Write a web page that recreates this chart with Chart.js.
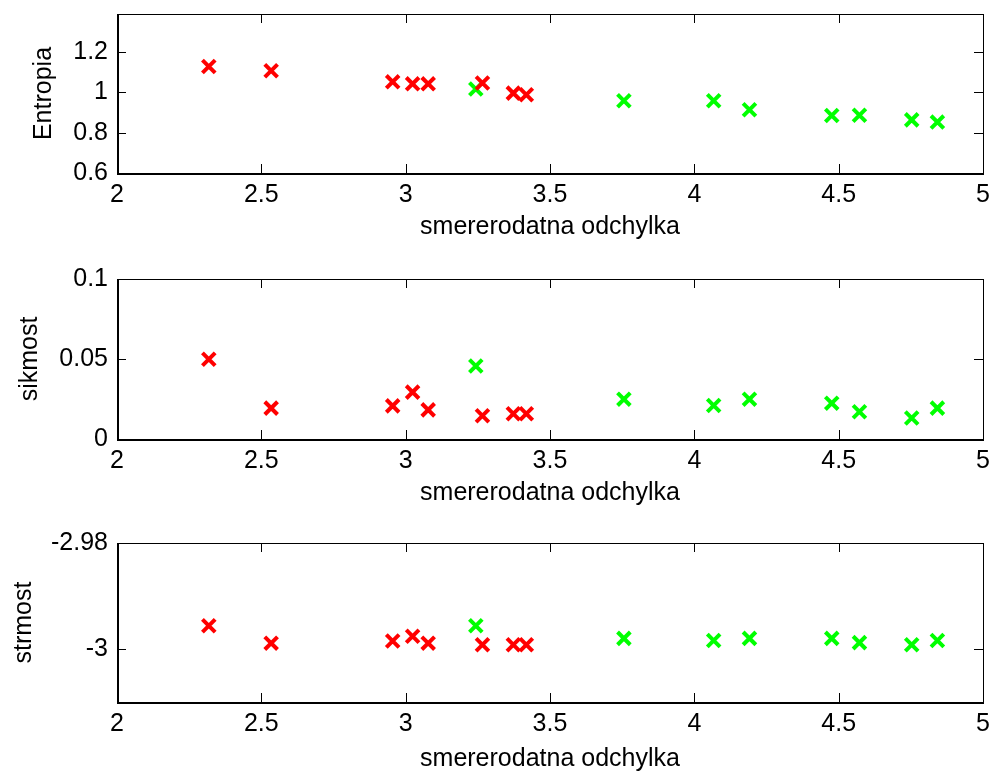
<!DOCTYPE html>
<html>
<head>
<meta charset="utf-8">
<script src="https://cdn.jsdelivr.net/npm/chart.js@4/dist/chart.umd.min.js"></script>
<style>
  html, body { margin: 0; padding: 0; background: #fff; }
  #wrap { position: relative; width: 996px; height: 779px; overflow: hidden; }
  #wrap canvas { position: absolute; left: 0; }
</style>
</head>
<body>
<div id="wrap">
  <canvas id="c1" width="996" height="242" style="top:0px"></canvas>
  <canvas id="c2" width="996" height="248" style="top:260px"></canvas>
  <canvas id="c3" width="996" height="244" style="top:530px"></canvas>
</div>
<script>
// smerodatna odchylka (x) for both groups
const redX   = [2.318, 2.534, 2.955, 3.024, 3.078, 3.266, 3.373, 3.418];
const greenX = [3.243, 3.756, 4.067, 4.191, 4.476, 4.572, 4.753, 4.842];

const entropiaRed   = [1.129, 1.108, 1.053, 1.043, 1.043, 1.047, 0.997, 0.989];
const entropiaGreen = [1.017, 0.959, 0.959, 0.914, 0.886, 0.887, 0.864, 0.853];

const sikmostRed   = [0.0498, 0.0193, 0.0207, 0.0293, 0.0182, 0.0145, 0.0158, 0.0158];
const sikmostGreen = [0.0456, 0.0249, 0.0209, 0.0249, 0.0224, 0.0170, 0.0131, 0.0193];

const strmostRed   = [-2.9956, -2.9989, -2.9985, -2.9976, -2.9989, -2.9992, -2.9992, -2.9992];
const strmostGreen = [-2.9956, -2.9980, -2.9984, -2.9980, -2.9980, -2.9988, -2.9992, -2.9984];

const xTicks = [2, 2.5, 3, 3.5, 4, 4.5, 5];
const entropiaTicks = [0.6, 0.8, 1, 1.2];
const sikmostTicks = [0, 0.05, 0.1];
const strmostTicks = [-3, -2.98];

const xTitle = 'smererodatna odchylka';
const FONT = "'Liberation Sans', Arial, sans-serif";

// inward ticks on all four sides + box, like matlab axes
const matlabBox = {
  id: 'matlabBox',
  beforeDatasetsDraw(chart) {
    const { ctx, chartArea: a, scales: { x, y } } = chart;
    const tl = 9;
    ctx.save();
    ctx.strokeStyle = '#000';
    ctx.lineWidth = 1;
    ctx.beginPath();
    x.ticks.forEach(t => {
      const px = Math.round(x.getPixelForValue(t.value)) + 0.5;
      ctx.moveTo(px, a.bottom); ctx.lineTo(px, a.bottom - tl);
      ctx.moveTo(px, a.top); ctx.lineTo(px, a.top + tl);
    });
    y.ticks.forEach(t => {
      const py = Math.round(y.getPixelForValue(t.value)) + 0.5;
      ctx.moveTo(a.left, py); ctx.lineTo(a.left + tl, py);
      ctx.moveTo(a.right, py); ctx.lineTo(a.right - tl, py);
    });
    ctx.stroke();
    ctx.strokeRect(Math.round(a.left) + 0.5, Math.round(a.top) + 0.5,
                   Math.round(a.right - a.left), Math.round(a.bottom - a.top));
    ctx.lineWidth = 2;
    ctx.beginPath();
    ctx.moveTo(Math.round(a.left) + 1, Math.round(a.top));
    ctx.lineTo(Math.round(a.left) + 1, Math.round(a.bottom) + 1);
    ctx.lineTo(Math.round(a.right) + 1, Math.round(a.bottom) + 1);
    ctx.stroke();
    ctx.restore();
  }
};

function fmt(v) {
  return String(parseFloat(Number(v).toFixed(4)));
}

function noPad(s) {
  s.paddingTop = 0; s.paddingBottom = 0; s.paddingLeft = 0; s.paddingRight = 0;
}

function makeChart(id, red, green, yMin, yMax, yTicks, yLabel, yTitlePad, padTop, xHeight) {
  const ctx = document.getElementById(id).getContext('2d');
  const marker = { pointStyle: 'crossRot', pointRadius: 9, pointBorderWidth: 4, showLine: false };
  return new Chart(ctx, {
    type: 'scatter',
    data: {
      datasets: [
        Object.assign({ label: 'red', data: redX.map((v, i) => ({ x: v, y: red[i] })),
          borderColor: '#ff0000', backgroundColor: '#ff0000' }, marker),
        Object.assign({ label: 'green', data: greenX.map((v, i) => ({ x: v, y: green[i] })),
          borderColor: '#00ff00', backgroundColor: '#00ff00' }, marker)
      ]
    },
    options: {
      responsive: false,
      animation: false,
      layout: { padding: { left: 0, right: 10, top: padTop, bottom: 0 } },
      plugins: { legend: { display: false }, tooltip: { enabled: false } },
      scales: {
        x: {
          type: 'linear', min: 2, max: 5,
          grid: { display: false, drawTicks: false },
          border: { display: false },
          afterBuildTicks: s => { s.ticks = xTicks.map(v => ({ value: v })); },
          afterFit: s => { s.height = xHeight; noPad(s); },
          ticks: { color: '#000', font: { family: FONT, size: 25 }, padding: 7, callback: fmt },
          title: { display: true, text: xTitle, color: '#000', font: { family: FONT, size: 25 }, padding: 0 }
        },
        y: {
          type: 'linear', min: yMin, max: yMax,
          grid: { display: false, drawTicks: false },
          border: { display: false },
          afterBuildTicks: s => { s.ticks = yTicks.map(v => ({ value: v })); },
          afterFit: s => { s.width = 117; noPad(s); },
          ticks: { color: '#000', font: { family: FONT, size: 25 }, padding: 9, callback: fmt },
          title: { display: true, text: yLabel, color: '#000', font: { family: FONT, size: 25 },
                   padding: { top: yTitlePad, bottom: 0 } }
        }
      }
    },
    plugins: [matlabBox]
  });
}

makeChart('c1', entropiaRed, entropiaGreen, 0.6, 1.39, entropiaTicks, 'Entropia', 29, 14, 69);
makeChart('c2', sikmostRed, sikmostGreen, 0, 0.1, sikmostTicks, 'sikmost', 15, 19, 69);
makeChart('c3', strmostRed, strmostGreen, -3.01, -2.98, strmostTicks, 'strmost', 9, 13, 72);
</script>
</body>
</html>
